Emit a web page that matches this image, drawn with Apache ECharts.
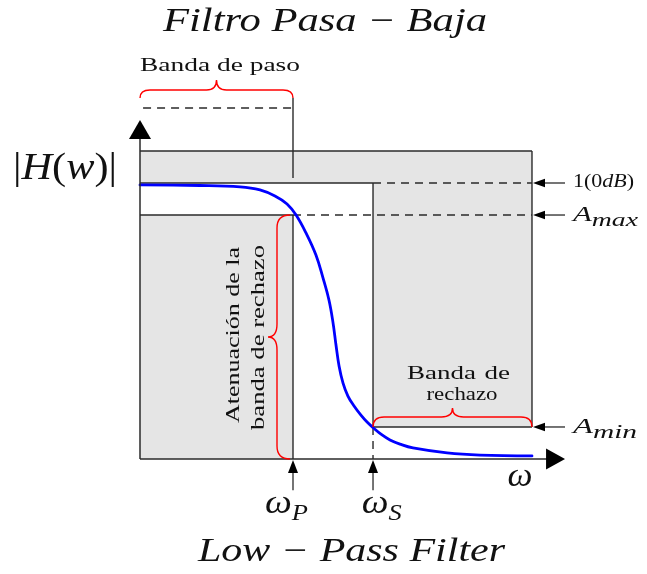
<!DOCTYPE html>
<html><head><meta charset="utf-8"><title>Filtro Pasa-Baja</title>
<script src="https://cdn.jsdelivr.net/npm/echarts@6.0.0/dist/echarts.min.js"></script>
<style>html,body{margin:0;padding:0;background:#fff;}#chart{width:647px;height:574px;}</style>
</head><body><div id="chart"></div>
<script>
// ---------------- data ----------------
// normalised frequency (ωP = 1) and normalised magnitude (0 dB = 1)
const curveW = [0.000, 0.392, 0.654, 0.784, 0.882, 0.961, 1.020, 1.085, 1.150, 1.196, 1.235, 1.261, 1.281, 1.301, 1.327, 1.359, 1.399, 1.444, 1.484, 1.523, 1.582, 1.634, 1.699, 1.784, 2.007, 2.222, 2.562];
const curveH = [0.993, 0.991, 0.986, 0.975, 0.953, 0.924, 0.884, 0.819, 0.739, 0.656, 0.576, 0.496, 0.413, 0.337, 0.275, 0.228, 0.192, 0.159, 0.134, 0.114, 0.087, 0.069, 0.054, 0.040, 0.022, 0.014, 0.011];
const freqNames  = ['P', 'S'];            // ω_P , ω_S
const freqValues = [1.0, 1.523];
const levelNames  = ['1(0dB)', 'max', 'min'];   // 1(0dB), A_max, A_min
const levelValues = [1.0, 0.884, 0.116];
const boxEdges = [2.562, 1.116];           // right end of the template, top of the shaded band
const captions = ['Filtro Pasa − Baja', 'Low − Pass Filter', 'Banda de paso', 'Banda de', 'rechazo', 'Atenuación de la', 'banda de rechazo'];

// ---------------- style / layout ----------------
const INK = '#2a2a2a', TXT = '#111', GRAY = '#e5e5e5', RED = '#ff0000', BLUE = '#0000ff';
const FAM = '"Liberation Serif", "DejaVu Serif", serif';
const LAY = { yTip: 1.228, xTip: 2.778, markTop: 1.308, markBottom: 1.018, markDash: 1.272, freqLow: -0.113 };

const mctx = document.createElement('canvas').getContext('2d');
function fontOf(p) { return (p.it ? 'italic ' : '') + p.size + 'px ' + FAM; }
function textW(t, p) { mctx.font = fontOf(p); return mctx.measureText(t).width; }
function tokStyle(p) { return { fontFamily: FAM, fontSize: p.size, fontStyle: p.it ? 'italic' : 'normal', fill: TXT, lineHeight: p.size }; }

function label(s) {
  const tokens = [];
  s.parts.forEach(p => {
    const pieces = s.justify ? p.t.split(/( )/).filter(x => x !== '') : [p.t];
    pieces.forEach(piece => tokens.push({ t: piece, p: p, sp: piece === ' ' }));
  });
  let W = 0, maxS = 0, nSp = 0;
  tokens.forEach(tk => { tk.w = textW(tk.t, tk.p); W += tk.w; if (tk.sp) nSp++; maxS = Math.max(maxS, tk.p.size); });
  const subDx = s.sub ? (s.sub.dx || 0) : 0;
  const subW = s.sub ? textW(s.sub.t, s.sub) : 0;
  let total = W + subW + subDx;
  const sx = s.sx || (s.fitW ? s.fitW / total : 1);
  if (s.justify && s.fitW && nSp > 0) {
    const extra = Math.max(0, (s.fitW / sx - total) / nSp);
    tokens.forEach(tk => { if (tk.sp) tk.w += extra; });
    W = tokens.reduce((a, t) => a + t.w, 0);
    total = W + subW + subDx;
  }
  const rich = {}; let str = '';
  tokens.forEach((tk, i) => { const st = tokStyle(tk.p); if (tk.sp) st.width = tk.w; rich['t' + i] = st; str += '{t' + i + '|' + tk.t + '}'; });
  const off = s.align === 'center' ? -total / 2 : 0;
  const kids = [{ type: 'text', x: off, y: -0.33 * maxS,
    style: { text: str, rich: rich, align: 'left', verticalAlign: 'middle', fill: TXT, fontFamily: FAM, fontSize: maxS } }];
  if (s.sub) kids.push({ type: 'text', x: off + W + subDx, y: (s.sub.dy || 0) - 0.33 * s.sub.size,
    style: { text: s.sub.t, fontFamily: FAM, fontSize: s.sub.size, fontStyle: s.sub.it ? 'italic' : 'normal', fill: TXT, align: 'left', verticalAlign: 'middle' } });
  return { type: 'group', x: s.x, y: s.y, rotation: s.rot || 0, scaleX: sx, children: kids };
}

function brace(p0, p1, side, h, d, r) {
  const L = Math.hypot(p1[0] - p0[0], p1[1] - p0[1]);
  const u = [(p1[0] - p0[0]) / L, (p1[1] - p0[1]) / L];
  const n = [-u[1] * side, u[0] * side];
  const P = (s, t) => (p0[0] + u[0] * s + n[0] * t).toFixed(2) + ' ' + (p0[1] + u[1] * s + n[1] * t).toFixed(2);
  const m = L / 2;
  const path = 'M' + P(0, 0) + ' Q' + P(0, h) + ' ' + P(r, h) + ' L' + P(m - r, h) + ' Q' + P(m, h) + ' ' + P(m, d) +
    ' Q' + P(m, h) + ' ' + P(m + r, h) + ' L' + P(L - r, h) + ' Q' + P(L, h) + ' ' + P(L, 0);
  return { type: 'path', shape: { pathData: path }, style: { stroke: RED, fill: null, lineWidth: 1.4 } };
}

function geometry(params, api) {
  const C = p => api.coord(p);
  const [wP, wS] = freqValues, [one, aMax, aMin] = levelValues, [wEnd, gTop] = boxEdges;
  const kids = [];
  const rect = (x0, y0, x1, y1) => { const a = C([x0, y1]), b = C([x1, y0]);
    kids.push({ type: 'rect', shape: { x: a[0], y: a[1], width: b[0] - a[0], height: b[1] - a[1] }, style: { fill: GRAY } }); };
  rect(0, one, wEnd, gTop); rect(wS, aMin, wEnd, gTop); rect(0, 0, wP, aMax);
  const seg = (p, q, dash) => { const a = C(p), b = C(q);
    kids.push({ type: 'line', shape: { x1: a[0], y1: a[1], x2: b[0], y2: b[1] }, style: { stroke: INK, lineWidth: 1.4, lineDash: dash ? [8, 6] : null } }); };
  seg([0, gTop], [wEnd, gTop]); seg([wEnd, gTop], [wEnd, aMin]); seg([wS, aMin], [wEnd, aMin]);
  seg([wS, one], [wS, aMin]); seg([0, one], [wS, one]); seg([0, aMax], [wP, aMax]); seg([wP, 0], [wP, aMax]);
  seg([wS, one], [wEnd, one], true); seg([wP, aMax], [wEnd, aMax], true); seg([wS, aMin], [wS, 0], true);
  seg([wP, LAY.markBottom], [wP, LAY.markTop]);
  seg([0.02, LAY.markDash], [wP, LAY.markDash], true);
  return { type: 'group', children: kids };
}

function annotations(params, api) {
  const C = p => api.coord(p);
  const [wP, wS] = freqValues, [one, aMax, aMin] = levelValues, [wEnd, gTop] = boxEdges;
  const kids = [];
  const seg = (a, b, w) => kids.push({ type: 'line', shape: { x1: a[0], y1: a[1], x2: b[0], y2: b[1] }, style: { stroke: INK, lineWidth: w || 1.5 } });
  const head = (tip, dx, dy, len, hw) => kids.push({ type: 'polygon',
    shape: { points: [tip, [tip[0] - dx * len - dy * hw, tip[1] - dy * len + dx * hw], [tip[0] - dx * len + dy * hw, tip[1] - dy * len - dx * hw]] },
    style: { fill: '#000' } });
  // axes
  const o = C([0, 0]), yt = C([0, LAY.yTip]), xt = C([LAY.xTip, 0]);
  seg(o, [yt[0], yt[1] + 18]); head(yt, 0, -1, 19, 11);
  seg(o, [xt[0] - 18, xt[1]]); head(xt, 1, 0, 19, 10.5);
  // level arrows (right) and frequency arrows (bottom)
  levelValues.forEach(v => { const a = C([LAY.xTip, v]), b = C([wEnd, v]); seg(a, [b[0] + 10, b[1]], 1.3); head([b[0] + 1, b[1]], -1, 0, 12, 4.3); });
  freqValues.forEach(f => { const a = C([f, LAY.freqLow]), b = C([f, 0]); seg(a, [b[0], b[1] + 11], 1.3); head([b[0], b[1] + 1], 0, -1, 13, 5); });
  // braces
  const bt0 = C([0, LAY.markTop]), bt1 = C([wP, LAY.markTop]);
  kids.push(brace(bt0, bt1, -1, 8, 18, 10));
  const bv0 = C([wP, aMax]), bv1 = C([wP, 0]);
  kids.push(brace([bv0[0] - 3, bv0[1]], [bv1[0] - 3, bv1[1]], 1, 13, 22, 13));
  const bb0 = C([wS, aMin]), bb1 = C([wEnd, aMin]);
  kids.push(brace(bb0, bb1, -1, 10, 19, 11));

  // texts
  const it = (t, size) => ({ t: t, size: size, it: true });
  const up = (t, size) => ({ t: t, size: size, it: false });
  kids.push(label({ x: 325, y: 33, align: 'center', fitW: 324, parts: [it(captions[0], 33)] }));
  kids.push(label({ x: 351.5, y: 563, align: 'center', fitW: 307, parts: [it(captions[1], 33)] }));
  const hw = 38;
  kids.push(label({ x: 65, y: 182, align: 'center', fitW: 104, parts: [up('|', hw), it('H', hw), up('(', hw), it('w', hw), up(')', hw), up('|', hw)] }));
  kids.push(label({ x: (bt0[0] + bt1[0]) / 2 + 3.5, y: bt0[1] - 26, align: 'center', fitW: 160, parts: [up(captions[2], 18)] }));
  const bm = [(bb0[0] + bb1[0]) / 2, bb0[1]];
  kids.push(label({ x: bm[0] + 6, y: bm[1] - 47, align: 'center', fitW: 103, sx: 1.42, justify: true, parts: [up(captions[3], 19)] }));
  kids.push(label({ x: bm[0] + 9.5, y: bm[1] - 26, align: 'center', fitW: 71, parts: [up(captions[4], 19)] }));
  const vm = C([wP, aMax / 2]);
  kids.push(label({ x: vm[0] - 53, y: vm[1] - 2, rot: Math.PI / 2, align: 'center', fitW: 176, parts: [up(captions[5], 18)] }));
  kids.push(label({ x: vm[0] - 28, y: vm[1] + 0.5, rot: Math.PI / 2, align: 'center', fitW: 185, parts: [up(captions[6], 18)] }));
  // level labels
  const l0 = C([wEnd, one]);
  kids.push(label({ x: l0[0] + 41, y: l0[1] + 5, align: 'left', fitW: 61, parts: [up('1(0', 19), it('dB', 19), up(')', 19)] }));
  [1, 2].forEach(i => { const p = C([wEnd, levelValues[i]]);
    kids.push(label({ x: p[0] + 41, y: p[1] + 7, align: 'left', fitW: i === 1 ? 65 : 64, parts: [it('A', 20)], sub: { t: levelNames[i], size: 18, it: true, dy: 5 } })); });
  // frequency labels
  const fOff = [-28, -11.3], fW = [43, 40];
  freqValues.forEach((f, i) => { const p = C([f, 0]);
    kids.push(label({ x: p[0] + fOff[i], y: p[1] + 56, align: 'left', fitW: fW[i], parts: [it('ω', 33)], sub: { t: freqNames[i], size: 23, it: true, dy: 7 } })); });
  const xe = C([wEnd, 0]);
  kids.push(label({ x: xe[0] - 12, y: xe[1] + 29, align: 'center', fitW: 25, parts: [it('ω', 33)] }));
  return { type: 'group', children: kids };
}

const chart = echarts.init(document.getElementById('chart'), null, { renderer: 'canvas' });
chart.setOption({
  animation: false,
  backgroundColor: '#fff',
  grid: { left: 48.2, right: 17.4, top: 17.4, bottom: 4.6, containLabel: false },
  xAxis: { type: 'value', min: -0.6, max: 3.2, show: false },
  yAxis: { type: 'value', min: -0.4, max: 1.6, show: false },
  series: [
    { type: 'custom', name: 'template', renderItem: geometry, data: [[0, 0]], z: 1, silent: true },
    { type: 'line', name: '|H(w)|', data: curveW.map((w, i) => [w, curveH[i]]), smooth: 0.4,
      symbol: 'none', sampling: null, lineStyle: { color: BLUE, width: 2.8, cap: 'round', join: 'round' }, z: 2, silent: true },
    { type: 'custom', name: 'annotations', renderItem: annotations, data: [[0, 0]], z: 3, silent: true }
  ]
});
</script></body></html>
